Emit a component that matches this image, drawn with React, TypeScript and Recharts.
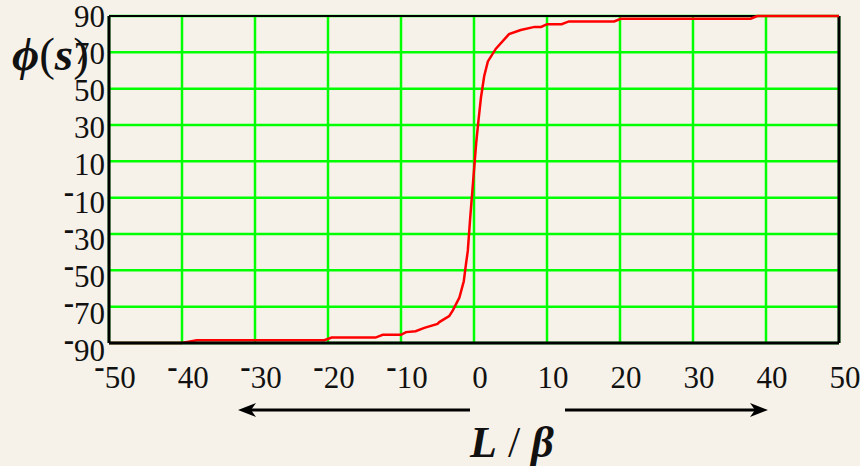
import { LineChart, Line, XAxis, YAxis, CartesianGrid, ReferenceLine } from "recharts";

// L/beta values (x) and phi(s) in degrees
const lOverBeta = [
  -50, -40, -38, -20.5, -19.5, -13.5, -12.5, -10, -9.3, -8, -6.8, -5, -4.75, -3.4, -2.9, -2.0,
  -1.4, -1.1, -0.85, -0.5, -0.1, 0.3, 0.6, 0.95, 1.4, 1.9, 3, 4.8, 6.4, 8.3, 9.2, 10, 12, 13,
  19.2, 20.1, 37.9, 38.8, 50,
];
const phiDeg = [
  -90, -90, -88.5, -88.5, -87, -87, -85.5, -85.5, -84, -83.5, -81.7, -79.5, -78.5, -75.2, -72,
  -65, -56, -46.6, -39.3, -20, 0, 20, 32, 45, 57, 65, 72, 80, 82.3, 84, 84, 85.5, 85.5, 87, 87,
  88.5, 88.5, 90, 90,
];

const xTicks = [-50, -40, -30, -20, -10, 0, 10, 20, 30, 40, 50];
const yTicks = [-90, -70, -50, -30, -10, 10, 30, 50, 70, 90];

const data = lOverBeta.map((x, i) => ({ x, phi: phiDeg[i] }));

const SERIF = '"Liberation Serif", "Times New Roman", "DejaVu Serif", serif';

// negative labels use a raised minus sign, as in the original
const Label = ({ v }: { v: number }) =>
  v < 0 ? (
    <>
      <tspan dy={-11} fontWeight="bold">-</tspan>
      <tspan dy={11}>{Math.abs(v)}</tspan>
    </>
  ) : (
    <tspan>{v}</tspan>
  );

const XTick = (props: any) => {
  const { x, y, payload } = props;
  return (
    <text x={x + 6} y={y + 45} textAnchor="middle" fontFamily={SERIF} fontSize={31} fill="#111">
      <Label v={payload.value} />
    </text>
  );
};

const YTick = (props: any) => {
  const { x, y, payload } = props;
  // labels drift a bit lower than the grid as they go down
  const shift = 1 + ((90 - payload.value) / 180) * 7;
  return (
    <text x={x - 4} y={y + shift + 10} textAnchor="end" fontFamily={SERIF} fontSize={31} fill="#111">
      <Label v={payload.value} />
    </text>
  );
};

export default function App() {
  return (
    <div
      style={{
        position: "absolute",
        left: 0,
        top: 0,
        width: 860,
        height: 466,
        background: "#f7f2e9",
        overflow: "hidden",
      }}
    >
      <LineChart
        width={860}
        height={466}
        data={data}
        margin={{ top: 16, right: 21, bottom: 83, left: 0 }}
      >
        <CartesianGrid stroke="#00ff00" strokeWidth={2.5} />
        <XAxis
          dataKey="x"
          type="number"
          domain={[-50, 50]}
          ticks={xTicks}
          interval={0}
          height={40}
          tickSize={0}
          tickMargin={0}
          tickLine={false}
          axisLine={{ stroke: "#000", strokeWidth: 3 }}
          tick={<XTick />}
        />
        <YAxis
          type="number"
          domain={[-90, 90]}
          ticks={yTicks}
          interval={0}
          width={109}
          tickSize={0}
          tickMargin={0}
          tickLine={false}
          axisLine={{ stroke: "#000", strokeWidth: 3 }}
          tick={<YTick />}
        />
        <ReferenceLine y={90} stroke="#000" strokeWidth={2} />
        <ReferenceLine x={50} stroke="#000" strokeWidth={3} />
        <Line
          type="linear"
          dataKey="phi"
          stroke="#ff0000"
          strokeWidth={2.5}
          dot={false}
          isAnimationActive={false}
        />
      </LineChart>

      {/* axis titles and direction arrows */}
      <svg
        width={860}
        height={466}
        style={{ position: "absolute", left: 0, top: 0, pointerEvents: "none" }}
      >
        <text x={12} y={70} fontFamily={SERIF} fontSize={47} fill="#111">
          <tspan fontWeight="bold" fontStyle="italic">{"\u03D5"}</tspan>
          <tspan>(</tspan>
          <tspan fontWeight="bold" fontStyle="italic">s</tspan>
          <tspan>)</tspan>
        </text>
        <text x={470} y={457} fontFamily={SERIF} fontSize={44} fill="#111">
          <tspan fontWeight="bold" fontStyle="italic">L</tspan>
          <tspan> / </tspan>
          <tspan fontWeight="bold" fontStyle="italic">{"\u03B2"}</tspan>
        </text>
        <line x1={470} y1={410} x2={250} y2={410} stroke="#000" strokeWidth={3} />
        <polygon points="238,410 256,403 251,410 256,417" fill="#000" />
        <line x1={565} y1={410} x2={756} y2={410} stroke="#000" strokeWidth={3} />
        <polygon points="768,410 750,403 755,410 750,417" fill="#000" />
      </svg>
    </div>
  );
}
